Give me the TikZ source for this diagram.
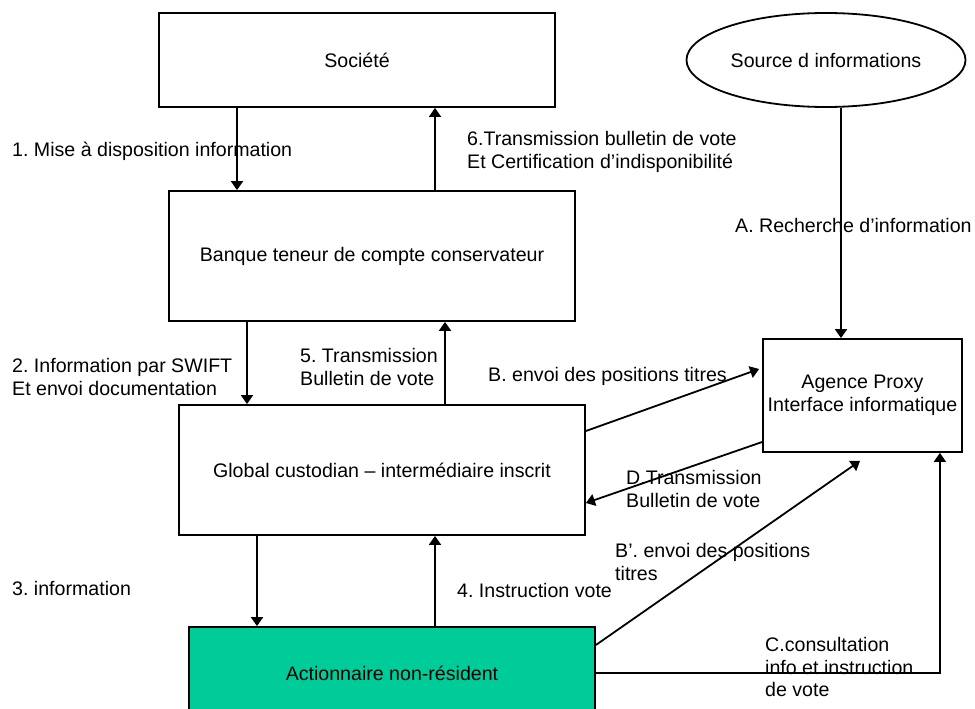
\documentclass[tikz,border=0pt]{standalone}
\usepackage{fontspec}
\setmainfont{Liberation Sans}
\usepackage{xcolor}
\usepackage{tikz}
\usetikzlibrary{arrows.meta, shapes.geometric, positioning, calc}
\definecolor{vertaction}{RGB}{0,204,153}
\frenchspacing

\begin{document}
\begin{tikzpicture}[
                x=1pt, y=-1pt,
                font=\fontsize{19.6}{22.5}\selectfont,
                box/.style={rectangle, draw, line width=1.8pt, minimum width=406pt, minimum height=130pt},
                lbl/.style={anchor=west, align=left, inner sep=0pt},
                arr/.style={line width=1.8pt, -{Triangle[length=9pt, width=12pt]}}
            ]
                \useasboundingbox (0,0) rectangle (975,709);
                \clip (0,0) rectangle (975,709);

                % Nodes
                \node[box, minimum width=396pt, minimum height=94pt] (soc) at (357,60) {Société};
                \node[box] (banque) at (372,256) {Banque teneur de compte conservateur};
                \node[box] (glob) at (382,470) {Global custodian – intermédiaire inscrit};
                \node[box, minimum height=92pt, fill=vertaction] (action) at (392,673) {Actionnaire non-résident};
                \node[ellipse, draw, line width=1.8pt, minimum width=228pt, minimum height=94pt] (src) at (826,60) {Source d informations};
                \node[box, minimum width=199pt, minimum height=113pt, align=center] (proxy) at (862.5,395.5) {Agence Proxy\\Interface informatique};

                % Edges
                \draw[arr] ([xshift=-120pt]soc.south) -- ([xshift=-135pt]banque.north);
                \draw[arr] ([xshift=63pt]banque.north) -- ([xshift=78pt]soc.south);
                \draw[arr] ([xshift=-125pt]banque.south) -- ([xshift=-135pt]glob.north);
                \draw[arr] ([xshift=63pt]glob.north) -- ([xshift=73pt]banque.south);
                \draw[arr] ([xshift=-125pt]glob.south) -- ([xshift=-135pt]action.north);
                \draw[arr] ([xshift=43pt]action.north) -- ([xshift=53pt]glob.south);
                \draw[arr] ([xshift=15pt]src.south) -- ([xshift=-21.5pt]proxy.north);
                \draw[arr] ([yshift=39pt]glob.east) -- ([xshift=-3pt,yshift=26.5pt]proxy.west);
                \draw[arr] ([yshift=-46.5pt]proxy.west) -- ([yshift=-33pt]glob.east);
                \draw[arr] ([yshift=28pt]action.east) -- ([xshift=-2.5pt,yshift=-8pt]proxy.south);
                \draw[arr] (action.east) -| ([xshift=-23pt]proxy.south east);

                % Labels
                \node[lbl] (l1) at (12,151) {1. Mise à disposition information};
                \node[lbl] (l6) at (467,152) {6.Transmission bulletin de vote\\Et Certification d’indisponibilité};
                \node[lbl] (lA) at (735,225) {A. Recherche d’information};
                \node[lbl] (l2) at (12,377) {2. Information par SWIFT\\Et envoi documentation};
                \node[lbl] (l5) at (300,367) {5. Transmission\\Bulletin de vote};
                \node[lbl] (lB) at (488,376) {B. envoi des positions titres};
                \node[lbl] (lD) at (626,489) {D.Transmission\\Bulletin de vote};
                \node[lbl] (lB2) at (615,562) {B’. envoi des positions\\titres};
                \node[lbl] (l3) at (12,588) {3. information};
                \node[lbl] (l4) at (457,590) {4. Instruction vote};
                \node[lbl] (lC) at (765,667) {C.consultation\\info et instruction\\de vote};
            \end{tikzpicture}
\end{document}
